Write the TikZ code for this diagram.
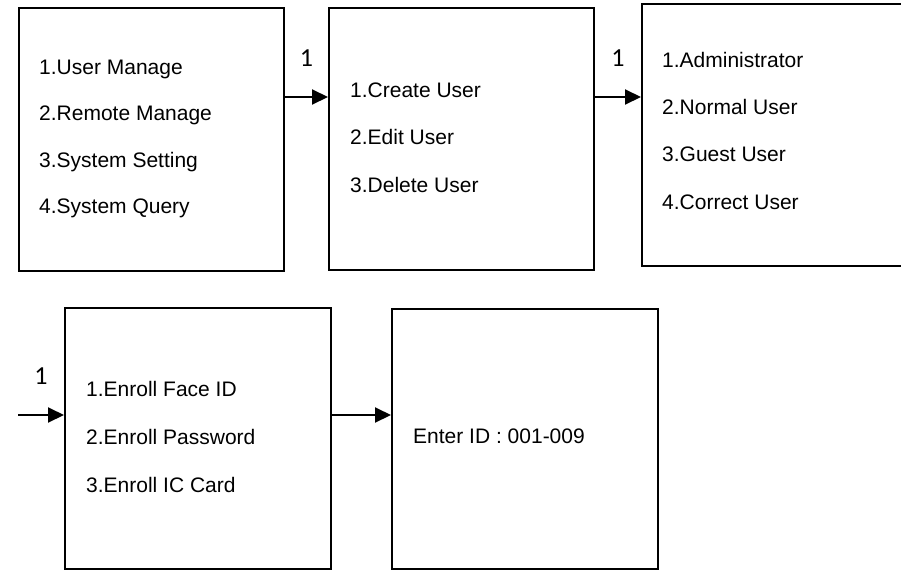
\documentclass[tikz,border=0pt]{standalone}
\usepackage{fontspec}
\setmainfont{Liberation Sans}
\newfontfamily\numfont{Carlito}
\usetikzlibrary{arrows.meta, calc, positioning}

\begin{document}
\begin{tikzpicture}[x = 1pt, y = -1pt,
    box/.style = {draw, line width = 2pt, anchor = north west, inner sep = 0pt},
    item/.style = {anchor = base west, inner sep = 0pt, font = \fontsize{21}{25}\selectfont},
    lbl/.style = {anchor = base, inner sep = 0pt, yshift = 31pt, font = \numfont\fontsize{26}{30}\selectfont},
    arr/.style = {line width = 2pt, -{Triangle[length = 16pt, width = 15pt]}}]
    % Pagina
    \useasboundingbox (0,0) rectangle (901,570);
    % Riquadri
    \node[box, minimum width = 265, minimum height = 263] (main) at (18,7) {};
    \node[box, minimum width = 265, minimum height = 262] (user) at (328,7) {};
    \node[box, minimum width = 265, minimum height = 262] (kind) at (641,3) {};
    \node[box, minimum width = 266, minimum height = 261] (enroll) at (64,307) {};
    \node[box, minimum width = 266, minimum height = 260] (ident) at (391,308) {};
    % Voci
    \foreach \t [count = \i] in {1.User Manage, 2.Remote Manage, 3.System Setting, 4.System Query} {
        \node[item] (main-\i) at ($(main.north west)+(21,20.5+46.5*\i)$) {\t};
    };
    \foreach \t [count = \i] in {1.Create User, 2.Edit User, 3.Delete User} {
        \node[item] (user-\i) at ($(user.north west)+(22,42.5+47.5*\i)$) {\t};
    };
    \foreach \t [count = \i] in {1.Administrator, 2.Normal User, 3.Guest User, 4.Correct User} {
        \node[item] (kind-\i) at ($(kind.north west)+(21,17+47.3*\i)$) {\t};
    };
    \foreach \t [count = \i] in {1.Enroll Face ID, 2.Enroll Password, 3.Enroll IC Card} {
        \node[item] (enroll-\i) at ($(enroll.north west)+(22,41+48*\i)$) {\t};
    };
    \node[item] (ident-1) at ($(ident.north west)+(22,135)$) {Enter ID : 001-009};
    % Frecce
    \coordinate (start) at (18,415);
    \draw[arr] ($(main.north east)+(0,90)$) -- node[midway, lbl] {1} ($(user.north west)+(0,90)$);
    \draw[arr] ($(user.north east)+(0,90)$) -- node[midway, lbl] {1} ($(kind.north west)+(0,94)$);
    \draw[arr] (start) -- node[midway, lbl] {1} ($(enroll.north west)+(0,108)$);
    \draw[arr] ($(enroll.north east)+(0,108)$) -- ($(ident.north west)+(0,107)$);
\end{tikzpicture}
\end{document}
